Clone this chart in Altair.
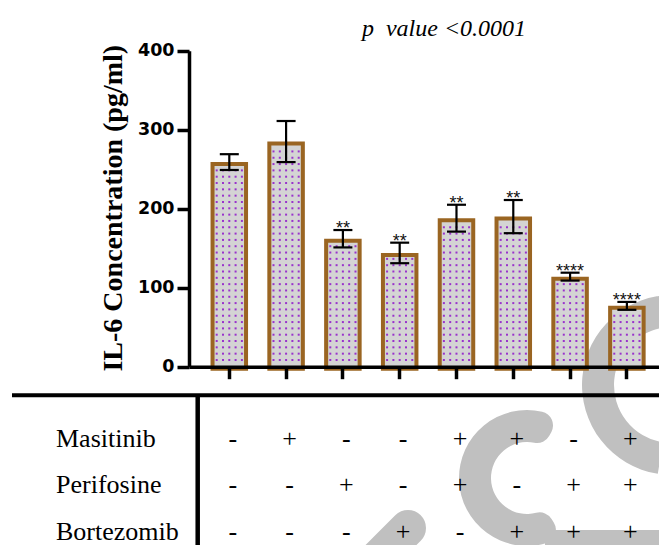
import altair as alt
import pandas as pd

# ---------------- data ----------------
groups = ["1", "2", "3", "4", "5", "6", "7", "8"]
means = [259, 285, 162, 144, 188, 190, 114, 77]
errors = [10, 26, 11, 13, 17, 21, 5, 5]
stars = ["", "", "**", "**", "**", "**", "****", "****"]
y_ticks = [0, 100, 200, 300, 400]
drug_rows = ["Masitinib", "Perifosine", "Bortezomib"]
masitinib = ["-", "+", "-", "-", "+", "+", "-", "+"]
perifosine = ["-", "-", "+", "-", "+", "-", "+", "+"]
bortezomib = ["-", "-", "-", "+", "-", "+", "+", "+"]
title_text = "p\u00a0\u00a0value <0.0001"
y_title = "IL-6 Concentration (pg/ml)"

bars_df = pd.DataFrame({"group": groups, "mean": means, "err": errors, "stars": stars})
bars_df["lo"] = bars_df["mean"] - bars_df["err"]
bars_df["hi"] = bars_df["mean"] + bars_df["err"]

signs_df = pd.DataFrame({
    "group": groups * 3,
    "drug": [r for r in drug_rows for _ in groups],
    "sign": masitinib + perifosine + bortezomib,
})
rows_df = pd.DataFrame({"drug": drug_rows})
one = pd.DataFrame({"k": [0]})

# ---------------- layout / style ----------------
W, H = 659, 545
X0 = 189      # y-axis line
Y0 = 366.7    # x-axis line (value 0)
YTOP = 50.7   # value 400
GRAY = "#c0c0c0"
BROWN = "#9a6522"
SERIF = "Liberation Serif"

x_scale = alt.Scale(domain=groups, range=[X0, W], paddingInner=0.41,
                    paddingOuter=0.3425, align=0.605, round=False)
y_scale = alt.Scale(domain=[0, 400], range=[Y0, YTOP], nice=False)
row_scale = alt.Scale(type="point", domain=drug_rows, range=[446.5, 540], padding=0)

x_axis = alt.Axis(orient="bottom", offset=-(H - Y0), labels=False, title=None,
                  ticks=True, tickSize=12, tickWidth=3.5, tickColor="black",
                  domainWidth=3.5, domainColor="black", grid=False, zindex=2)
x_enc = alt.X("group:N", scale=x_scale, axis=x_axis)

y_axis = alt.Axis(values=y_ticks, orient="left", offset=-X0, title=y_title,
                  titleFont=SERIF, titleFontSize=28, titleFontWeight="bold",
                  titleColor="black", titleX=121 - X0, titleY=(Y0 + YTOP) / 2 - 1,
                  titleAngle=270, titleAlign="center", titleBaseline="alphabetic",
                  labelFont="DejaVu Sans", labelFontSize=17.5, labelFontWeight="bold",
                  labelColor="black", labelPadding=3, tickSize=12, tickWidth=3.5,
                  tickColor="black", domainWidth=3.5, domainColor="black",
                  grid=False, zindex=2)

# ---------------- gray background strokes ----------------
arcA = alt.Chart(one).mark_arc().encode(
    x=alt.value(672), y=alt.value(385), radius=alt.value(90), radius2=alt.value(58),
    theta=alt.value(3.3), theta2=alt.value(6.3), color=alt.value(GRAY))
arcC = alt.Chart(one).mark_arc(cornerRadius=14).encode(
    x=alt.value(527), y=alt.value(478), radius=alt.value(68), radius2=alt.value(36),
    theta=alt.value(2.6), theta2=alt.value(6.77), color=alt.value(GRAY))
band = alt.Chart(one).mark_rect().encode(
    x=alt.value(545), x2=alt.value(W), y=alt.value(530), y2=alt.value(H),
    color=alt.value(GRAY))
diag = alt.Chart(one).mark_rule(strokeWidth=36, strokeCap="round").encode(
    x=alt.value(408), y=alt.value(528), x2=alt.value(360), y2=alt.value(576),
    color=alt.value(GRAY))

# ---------------- bars ----------------
bars = alt.Chart(bars_df).mark_bar(fill="#d4d4d4", stroke=BROWN, strokeWidth=4,
                                   yOffset=2).encode(
    x=x_enc, y=alt.Y("mean:Q", scale=y_scale, axis=y_axis))

# dotted texture inside the bars: five columns of dots per bar
dot_layers = []
for bp in [0.124, 0.312, 0.5, 0.688, 0.876]:
    dot_layers.append(
        alt.Chart(bars_df).transform_calculate(
            doty="sequence(8.5, datum.mean - 5.5, 8)").transform_flatten(["doty"]).mark_square(
            size=4, color="#9932CC", opacity=1).encode(
            x=alt.X("group:N", scale=x_scale, axis=x_axis, bandPosition=bp),
            y=alt.Y("doty:Q", scale=y_scale)))

err_rule = alt.Chart(bars_df).mark_rule(color="black", strokeWidth=2.2).encode(
    x=x_enc, y=alt.Y("lo:Q", scale=y_scale), y2="hi:Q")
caps = alt.Chart(bars_df).transform_fold(["lo", "hi"], as_=["end", "v"]).mark_tick(
    color="black", thickness=2.2, size=19, opacity=1).encode(
    x=x_enc, y=alt.Y("v:Q", scale=y_scale))
star_text = alt.Chart(bars_df).mark_text(font="Liberation Sans", fontSize=18, dy=4,
                                         baseline="alphabetic", color="#111").encode(
    x=x_enc, y=alt.Y("hi:Q", scale=y_scale), text="stars:N")
title = alt.Chart(one).mark_text(font=SERIF, fontStyle="italic", fontSize=24,
                                 align="center", baseline="alphabetic",
                                 color="black").encode(
    x=alt.value(444), y=alt.value(36), text=alt.value(title_text))

upper = alt.layer(arcA, arcC, band, diag, bars, *dot_layers, err_rule, caps,
                  star_text, title)

# ---------------- table ----------------
hline = alt.Chart(one).mark_rule(color="black", strokeWidth=4).encode(
    x=alt.value(12), x2=alt.value(W), y=alt.value(395.3))
vline = alt.Chart(one).mark_rule(color="black", strokeWidth=4.5).encode(
    x=alt.value(197.7), y=alt.value(395.3), y2=alt.value(H))
row_labels = alt.Chart(rows_df).mark_text(font=SERIF, fontSize=26, align="left",
                                          baseline="alphabetic", color="black").encode(
    x=alt.value(56), y=alt.Y("drug:N", scale=row_scale, axis=None), text="drug:N")
signs = alt.Chart(signs_df).mark_text(font=SERIF, fontSize=26, dx=3.5, align="center",
                                      baseline="alphabetic", color="black").encode(
    x=x_enc, y=alt.Y("drug:N", scale=row_scale, axis=None), text="sign:N")

lower = alt.layer(hline, vline, row_labels, signs)

chart = alt.layer(upper, lower).resolve_scale(y="independent").properties(
    width=W, height=H, autosize=alt.AutoSizeParams(type="none"), padding=0,
    background="white").configure_view(stroke=None)

chart.save("out.html", embed_options={"renderer": "svg", "actions": False})
